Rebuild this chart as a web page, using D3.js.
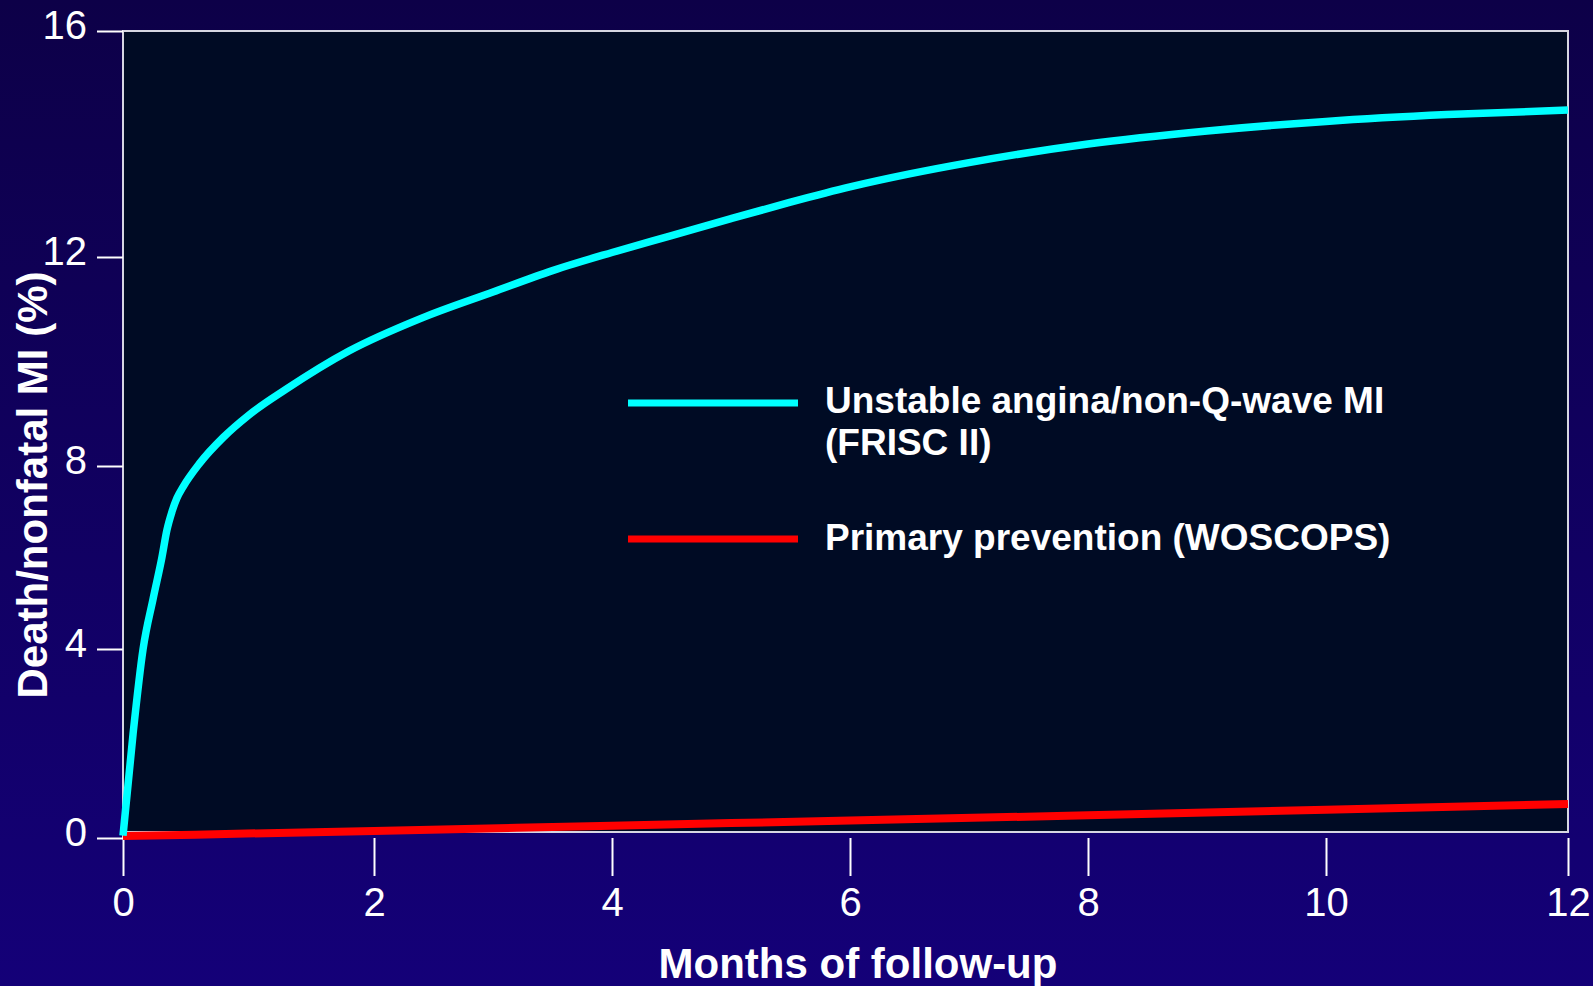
<!DOCTYPE html>
<html>
<head>
<meta charset="utf-8">
<script src="https://cdn.jsdelivr.net/npm/d3@7"></script>
<style>
  html, body { margin: 0; padding: 0; overflow: hidden; background: #10005e; }
  svg { display: block; font-family: "Liberation Sans", Arial, sans-serif; }
</style>
</head>
<body>
<svg id="chart"></svg>
<script>
// tick values
const xTicks = [0, 2, 4, 6, 8, 10, 12];
const yTicks = [0, 4, 8, 12, 16];

// Unstable angina/non-Q-wave MI (FRISC II)
const friscMonths = [0, 0.08, 0.16, 0.24, 0.31, 0.35, 0.39, 0.43, 0.48, 0.61, 0.8, 1.0, 1.3, 1.8, 2.4, 3, 3.5, 4, 4.5, 5, 5.5, 6, 6.5, 7, 8, 9, 10, 11, 12];
const friscValues = [0.05, 2.2, 4.0, 5.1, 6.0, 6.6, 7.0, 7.3, 7.55, 8.05, 8.55, 8.97, 9.47, 10.2, 10.83, 11.33, 11.74, 12.08, 12.38, 12.68, 12.97, 13.24, 13.47, 13.67, 14.0, 14.23, 14.4, 14.52, 14.6];

// Primary prevention (WOSCOPS)
const woscopsMonths = [0, 2, 4, 6, 8, 10, 12];
const woscopsValues = [0.04, 0.15, 0.26, 0.37, 0.48, 0.6, 0.72];

const seriesNames = ['Unstable angina/non-Q-wave MI', '(FRISC II)', 'Primary prevention (WOSCOPS)'];

const width = 1593, height = 986;

const svg = d3.select('#chart')
  .attr('width', width)
  .attr('height', height);

// background
const defs = svg.append('defs');
const grad = defs.append('linearGradient')
  .attr('id', 'bg')
  .attr('x1', 0).attr('y1', 0).attr('x2', 0).attr('y2', 1);
grad.append('stop').attr('offset', '0%').attr('stop-color', '#0d0048');
grad.append('stop').attr('offset', '100%').attr('stop-color', '#140078');
svg.append('rect').attr('width', width).attr('height', height).attr('fill', 'url(#bg)');

// the slide's axes are not evenly spaced, so map each tick to where it sits
const x = d3.scaleLinear()
  .domain(xTicks)
  .range([123, 374, 612, 850, 1088, 1326, 1568]);

const y = d3.scaleLinear()
  .domain(yTicks)
  .range([838, 649, 466, 257, 31]);

// plot panel
svg.append('rect')
  .attr('x', x(0))
  .attr('y', y(16))
  .attr('width', x(12) - x(0))
  .attr('height', 832 - y(16))
  .attr('fill', '#000b24')
  .attr('stroke', '#d6d6e2')
  .attr('stroke-width', 2);

svg.append('line')
  .attr('x1', x(0)).attr('x2', x(0))
  .attr('y1', 832).attr('y2', y(0))
  .attr('stroke', '#d6d6e2')
  .attr('stroke-width', 2);

// y axis
const yAxis = svg.append('g')
  .attr('transform', `translate(${x(0)},0)`)
  .call(d3.axisLeft(y).tickValues(yTicks).tickSize(26).tickPadding(10));
yAxis.select('.domain').remove();
yAxis.selectAll('line').attr('stroke', '#ffffff').attr('stroke-width', 2);
yAxis.selectAll('text')
  .attr('fill', '#ffffff')
  .attr('dy', '0.19em')
  .style('font-size', '40px');

// x axis
const xAxis = svg.append('g')
  .attr('transform', `translate(0,${y(0)})`)
  .call(d3.axisBottom(x).tickValues(xTicks).tickSize(38).tickPadding(10));
xAxis.select('.domain').remove();
xAxis.selectAll('line').attr('stroke', '#ffffff').attr('stroke-width', 2);
xAxis.selectAll('text')
  .attr('fill', '#ffffff')
  .attr('dy', '0.75em')
  .style('font-size', '40px');

// axis titles
svg.append('text')
  .attr('x', 858)
  .attr('y', 978)
  .attr('text-anchor', 'middle')
  .attr('fill', '#ffffff')
  .style('font-size', '42px')
  .style('font-weight', 'bold')
  .text('Months of follow-up');

svg.append('text')
  .attr('transform', 'translate(47,485) rotate(-90)')
  .attr('text-anchor', 'middle')
  .attr('fill', '#ffffff')
  .style('font-size', '42px')
  .style('font-weight', 'bold')
  .text('Death/nonfatal MI (%)');

// lines
const line = d3.line()
  .x(d => x(d[0]))
  .y(d => y(d[1]))
  .curve(d3.curveMonotoneX);

svg.append('path')
  .datum(d3.zip(woscopsMonths, woscopsValues))
  .attr('d', line)
  .attr('fill', 'none')
  .attr('stroke', '#ff0000')
  .attr('stroke-width', 8);

svg.append('path')
  .datum(d3.zip(friscMonths, friscValues))
  .attr('d', line)
  .attr('fill', 'none')
  .attr('stroke', '#00ffff')
  .attr('stroke-width', 7.5);

// legend
const legend = svg.append('g');

legend.append('line')
  .attr('x1', 628).attr('x2', 798)
  .attr('y1', 403).attr('y2', 403)
  .attr('stroke', '#00ffff')
  .attr('stroke-width', 7);

legend.append('line')
  .attr('x1', 628).attr('x2', 798)
  .attr('y1', 539).attr('y2', 539)
  .attr('stroke', '#ff0000')
  .attr('stroke-width', 7);

legend.selectAll('text.lbl')
  .data(seriesNames)
  .enter()
  .append('text')
  .attr('class', 'lbl')
  .attr('x', 825)
  .attr('y', (d, i) => [413, 455, 550][i])
  .attr('fill', '#ffffff')
  .style('font-size', '37px')
  .style('font-weight', 'bold')
  .text(d => d);
</script>
</body>
</html>
